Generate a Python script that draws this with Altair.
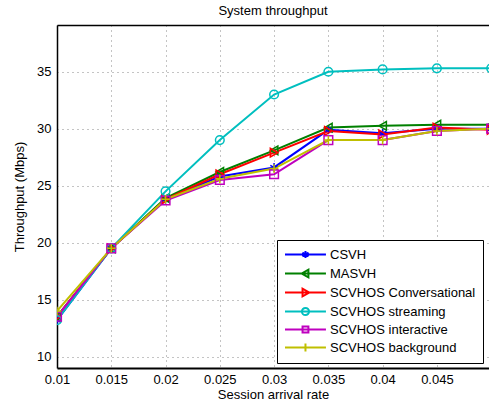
import altair as alt
import pandas as pd

x_vals = [0.01, 0.015, 0.02, 0.025, 0.03, 0.035, 0.04, 0.045, 0.05]
series_names = ["CSVH", "MASVH", "SCVHOS Conversational", "SCVHOS streaming",
                "SCVHOS interactive", "SCVHOS background"]
csvh = [13.2, 19.5, 23.8, 25.8, 26.6, 29.9, 29.6, 30.0, 30.0]
masvh = [13.5, 19.5, 23.9, 26.2, 28.1, 30.1, 30.25, 30.35, 30.35]
conv = [13.5, 19.5, 23.8, 26.0, 27.9, 29.8, 29.5, 30.1, 29.9]
streaming = [13.2, 19.5, 24.5, 29.0, 33.0, 35.0, 35.2, 35.3, 35.3]
interactive = [13.5, 19.5, 23.7, 25.5, 26.0, 29.0, 29.0, 29.8, 30.0]
background = [14.0, 19.5, 23.8, 25.6, 26.5, 29.0, 29.0, 29.8, 30.0]
x_ticks = [0.01, 0.015, 0.02, 0.025, 0.03, 0.035, 0.04, 0.045]
y_ticks = [10, 15, 20, 25, 30, 35]

colors = ["#0000ff", "#008000", "#ff0000", "#00bfbf", "#bf00bf", "#bfbf00"]
marker_shapes = [
    "M0,-1V1M-0.87,-0.5L0.87,0.5M-0.87,0.5L0.87,-0.5",
    "triangle-left",
    "triangle-right",
    "circle",
    "square",
    "M0,-1V1M-1,0H1",
]
# legend symbols: unit = 6.5 px; line from -1 to 5.3 units, marker at 2.15
legend_shapes = [
    "M-1,0H5.3M2.15,-0.55V0.55M1.68,-0.28L2.62,0.28M1.68,0.28L2.62,-0.28",
    "M-1,0H5.3M1.55,0L2.6,-0.6L2.6,0.6Z",
    "M-1,0H5.3M2.75,0L1.7,-0.6L1.7,0.6Z",
    "M-1,0H5.3M2.7,0A0.55,0.55 0 1,1 1.6,0A0.55,0.55 0 1,1 2.7,0",
    "M-1,0H5.3M1.7,-0.45H2.6V0.45H1.7Z",
    "M-1,0H5.3M2.15,-0.6V0.6",
]

all_series = [csvh, masvh, conv, streaming, interactive, background]
rows = []
for name, vals in zip(series_names, all_series):
    for xv, yv in zip(x_vals, vals):
        rows.append({"x": xv, "y": yv, "series": name})
df = pd.DataFrame(rows)

FONT = "Liberation Sans"
XDOM = [0.01, 0.0498]

xenc = alt.X("x:Q", title="Session arrival rate",
             scale=alt.Scale(domain=XDOM, nice=False, zero=False),
             axis=alt.Axis(values=x_ticks, format="~g", grid=True, ticks=False,
                           labelFlush=False, labelPadding=5, titlePadding=2))
yenc = alt.Y("y:Q", title="Throughput (Mbps)",
             scale=alt.Scale(domain=[9, 39.1], nice=False, zero=False),
             axis=alt.Axis(values=y_ticks, grid=True, ticks=False,
                           labelFlush=False, labelPadding=6, titlePadding=10))

def cenc(legend=None):
    return alt.Color("series:N", sort=series_names,
                     scale=alt.Scale(domain=series_names, range=colors),
                     legend=legend)

base = alt.Chart(df)

lines = base.mark_line(strokeWidth=2, clip=True).encode(
    x=xenc, y=yenc, color=cenc(), order="x:Q")

points = base.mark_point(filled=False, size=75, strokeWidth=1.5, opacity=1, clip=True).encode(
    x=xenc, y=yenc, color=cenc(),
    shape=alt.Shape("series:N", sort=series_names,
                    scale=alt.Scale(domain=series_names, range=marker_shapes),
                    legend=None))

leg_props = dict(
    title=None, orient="none", legendX=220, legendY=215,
    strokeColor="black", fillColor="white", padding=7,
    labelFont=FONT, labelFontSize=13, labelColor="black", labelLimit=300,
    symbolSize=169, symbolStrokeWidth=2, symbolOpacity=1,
    rowPadding=2, labelOffset=31,
)
legend_layer = base.mark_point(filled=False, opacity=0, clip=True).encode(
    x=xenc, y=yenc,
    color=cenc(alt.Legend(**leg_props)),
    shape=alt.Shape("series:N", sort=series_names,
                    scale=alt.Scale(domain=series_names, range=legend_shapes),
                    legend=alt.Legend(**leg_props)))

top_frame = base.mark_point(opacity=0).encode(
    x=alt.X("x:Q", scale=alt.Scale(domain=XDOM, nice=False, zero=False),
            axis=alt.Axis(orient="top", labels=False, ticks=False, grid=False,
                          title=None, domainColor="black", domainWidth=1.5)),
    y=yenc)

main = alt.layer(lines, points, legend_layer).resolve_scale(
    color="independent", shape="independent")

chart = alt.layer(main, top_frame).resolve_scale(
    x="independent"
).properties(
    width=432, height=343,
    title=alt.TitleParams("System throughput", font=FONT, fontSize=13,
                          fontWeight="normal", color="black", offset=7),
    autosize=alt.AutoSizeParams(type="none"),
    padding={"left": 57, "top": 25, "right": 0, "bottom": 40},
).configure_view(stroke=None).configure_axis(
    labelFont=FONT, labelFontSize=13, labelColor="black",
    titleFont=FONT, titleFontSize=13, titleFontWeight="normal", titleColor="black",
    domainColor="black", domainWidth=1.5,
    gridColor="#888888", gridDash=[1, 4], gridWidth=1, gridOpacity=1,
).configure_axisX(domainWidth=2)

chart.save("out.html", embed_options={"renderer": "svg", "actions": False})
